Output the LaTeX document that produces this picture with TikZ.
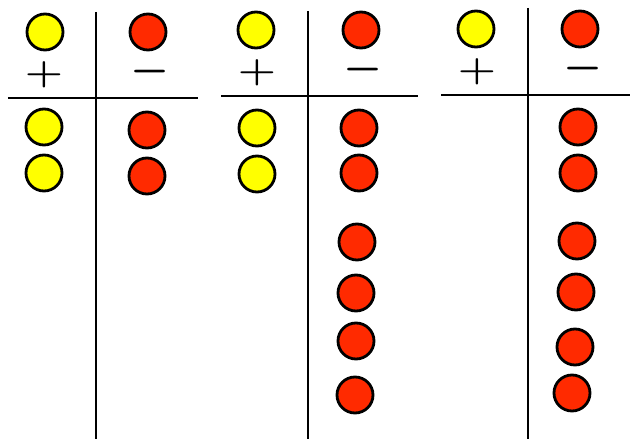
\documentclass[tikz,border=0pt]{standalone}
\usepackage{graphicx}
\usepackage{tikz}
\definecolor{ctP}{HTML}{FFFF00}
\definecolor{ctN}{HTML}{FF2A00}

\begin{document}
\begin{tikzpicture}[x=0.02cm,y=-0.02cm,
  chipP/.style={circle,draw,line width=1.6pt,fill=ctP,minimum size=0.72cm,inner sep=0pt},
  chipN/.style={chipP,fill=ctN},
  sgn/.style={font=\fontsize{26}{26}\selectfont\boldmath,inner sep=0pt},
  bar/.style={line width=1.6pt}]
  \useasboundingbox (0,0) rectangle (630,439);
  % first chart
  \node[chipP] (pA) at (45,32) {};
  \node[chipN] (nA) at (148,32) {};
  \node[sgn] (plusA) at (44,75) {\scalebox{1}[0.8]{$+$}};
  \node[sgn] (minusA) at (150,72) {$-$};
  \draw[bar] (96,12) -- (96,439);
  \draw[bar] (8,98) -- (198,98);
  \node[chipP] (pA1) at (44,127) {};
  \node[chipP] (pA2) at (44,173) {};
  \node[chipN] (nA1) at (147,130) {};
  \node[chipN] (nA2) at (147,176) {};
  % second chart
  \node[chipP] (pB) at (256,30) {};
  \node[chipN] (nB) at (361,30) {};
  \node[sgn] (plusB) at (257,73) {\scalebox{1}[0.8]{$+$}};
  \node[sgn] (minusB) at (363,70) {$-$};
  \draw[bar] (308,11) -- (308,439);
  \draw[bar] (221,96) -- (418,96);
  \node[chipP] (pB1) at (257,128) {};
  \node[chipP] (pB2) at (257,174) {};
  \node[chipN] (nB1) at (359,128) {};
  \node[chipN] (nB2) at (359,173) {};
  \node[chipN] (nB3) at (357,242) {};
  \node[chipN] (nB4) at (356,293) {};
  \node[chipN] (nB5) at (356,341) {};
  \node[chipN] (nB6) at (355,395) {};
  % third chart
  \node[chipP] (pC) at (476,29) {};
  \node[chipN] (nC) at (580,29) {};
  \node[sgn] (plusC) at (477,72) {\scalebox{1}[0.8]{$+$}};
  \node[sgn] (minusC) at (583,69) {$-$};
  \draw[bar] (528,8) -- (528,439);
  \draw[bar] (441,95) -- (630,95);
  \node[chipN] (nC1) at (578,127) {};
  \node[chipN] (nC2) at (578,173) {};
  \node[chipN] (nC3) at (577,241) {};
  \node[chipN] (nC4) at (576,292) {};
  \node[chipN] (nC5) at (575,347) {};
  \node[chipN] (nC6) at (572,393) {};
\end{tikzpicture}
\end{document}
